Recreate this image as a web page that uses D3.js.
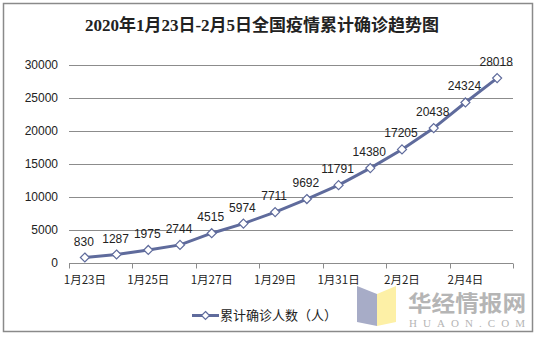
<!DOCTYPE html>
<html><head><meta charset="utf-8">
<script src="https://cdn.jsdelivr.net/npm/d3@7"></script>
<style>body{margin:0;background:#fff}svg{display:block}</style>
</head><body><svg id="c" width="536" height="337"></svg>
<script>
const categories = ["1月23日","1月24日","1月25日","1月26日","1月27日","1月28日","1月29日","1月30日","1月31日","2月1日","2月2日","2月3日","2月4日","2月5日"];
const values = [830,1287,1975,2744,4515,5974,7711,9692,11791,14380,17205,20438,24324,28018];
const yTicks = [0,5000,10000,15000,20000,25000,30000];
const seriesName = "累计确诊人数（人）";
const title = "2020年1月23日-2月5日全国疫情累计确诊趋势图";

const svg = d3.select("#c");
const color = "#5f6b9c";
const numFont = "Arial, 'Liberation Sans', 'Noto Sans CJK SC', sans-serif";

svg.append("rect").attr("x",3.5).attr("y",3.5).attr("width",529).attr("height",328)
  .attr("fill","#fff").attr("stroke","#8a8a8a").attr("stroke-width",1.5);

svg.append("text").attr("x",262).attr("y",31).attr("text-anchor","middle")
  .attr("font-family","'Liberation Serif','Noto Sans CJK SC',serif").attr("font-weight","bold")
  .attr("font-size",17).attr("fill","#222").text(title);

const x = d3.scaleBand().domain(categories).range([69,513]);
const y = d3.scaleLinear().domain([0,30000]).range([263,65]);

svg.append("g").selectAll("line").data(yTicks.filter(d=>d>0)).join("line")
  .attr("x1",69).attr("x2",513).attr("y1",d=>Math.round(y(d))+0.5).attr("y2",d=>Math.round(y(d))+0.5)
  .attr("stroke","#8c8c8c").attr("stroke-width",1);

const yAxis = d3.axisLeft(y).tickValues(yTicks).tickFormat(d3.format("d")).tickSize(0).tickPadding(11);
const gy = svg.append("g").attr("transform","translate(69,0)").call(yAxis);
gy.select(".domain").remove();
gy.selectAll("text").attr("font-family",numFont).attr("font-size",12).attr("fill","#222");

const gx = svg.append("g").attr("transform",`translate(0,${Math.round(y(0))+0.5})`);
gx.append("line").attr("x1",69).attr("x2",513).attr("stroke","#8c8c8c");
const tickPos = d3.range(0,categories.length+1,2).map(i=>69+i*x.step());
gx.selectAll("line.t").data(tickPos).join("line").attr("class","t")
  .attr("x1",d=>Math.round(d)+0.5).attr("x2",d=>Math.round(d)+0.5).attr("y1",0).attr("y2",5).attr("stroke","#8c8c8c");
gx.selectAll("text").data(categories.filter((d,i)=>i%2===0)).join("text")
  .attr("x",d=>x(d)+x.bandwidth()/2).attr("y",20).attr("text-anchor","middle")
  .attr("font-family","'Noto Sans CJK SC',sans-serif").attr("font-size",11.5).attr("fill","#222").text(d=>d);

const line = d3.line().x((d,i)=>x(categories[i])+x.bandwidth()/2).y(d=>y(d));
svg.append("path").datum(values).attr("d",line).attr("fill","none").attr("stroke",color).attr("stroke-width",3);

const diamond = (cx,cy,r)=>`M${cx},${cy-r}L${cx+r},${cy}L${cx},${cy+r}L${cx-r},${cy}Z`;
svg.append("g").selectAll("path").data(values).join("path")
  .attr("d",(d,i)=>diamond(x(categories[i])+x.bandwidth()/2,y(d),4.5))
  .attr("fill","#fff").attr("stroke",color).attr("stroke-width",1.2);

svg.append("g").selectAll("text").data(values).join("text")
  .attr("x",(d,i)=>x(categories[i])+x.bandwidth()/2-1).attr("y",d=>y(d)-12)
  .attr("text-anchor","middle").attr("font-family",numFont).attr("font-size",12).attr("fill","#222").text(d=>d);

svg.append("line").attr("x1",192).attr("x2",219).attr("y1",315.5).attr("y2",315.5).attr("stroke",color).attr("stroke-width",3);
svg.append("path").attr("d",diamond(205.5,315.5,4)).attr("fill","#fff").attr("stroke",color).attr("stroke-width",1.2);
svg.append("text").attr("x",220).attr("y",320).attr("font-family","'Noto Sans CJK SC',sans-serif").attr("font-size",13).attr("fill","#222").text(seriesName);

const wm = svg.append("g");
wm.append("path").attr("d","M357,286 L377,294 L377,326 L357,322 Z").attr("fill","#a7acc7");
wm.append("path").attr("d","M377,294 L396,286 L396,322 L377,326 Z").attr("fill","#fdf0a6");
wm.append("text").attr("x",467).attr("y",311).attr("text-anchor","middle").attr("font-family","'Noto Sans CJK SC',sans-serif")
  .attr("font-weight","bold").attr("font-size",22).attr("fill","#b5b5b5").attr("textLength",118).attr("lengthAdjust","spacingAndGlyphs").text("华经情报网");
wm.append("text").attr("x",467).attr("y",327).attr("text-anchor","middle").attr("font-family","'Liberation Serif',serif")
  .attr("font-size",11).attr("fill","#b5b5b5").attr("textLength",116).text("HUAON.COM");
</script></body></html>
